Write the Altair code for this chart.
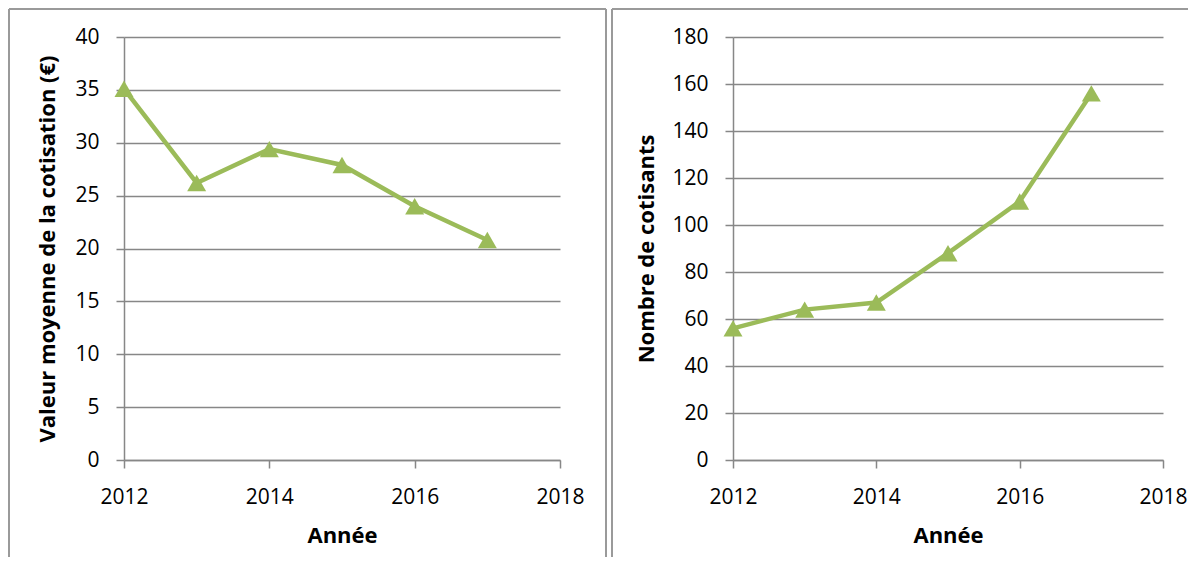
import altair as alt
import pandas as pd

years = [2012, 2013, 2014, 2015, 2016, 2017]
cotisation = [35.1, 26.2, 29.4, 27.9, 24.0, 20.8]
cotisants = [56, 64, 67, 88, 110, 156]

x_ticks = [2012, 2014, 2016, 2018]
left_ticks = [0, 5, 10, 15, 20, 25, 30, 35, 40]
right_ticks = [0, 20, 40, 60, 80, 100, 120, 140, 160, 180]

GREEN = "#9BBB59"
GRID = "#878787"
BORDER = "#9a9a9a"
FONT = "Open Sans"
LSIZE = 21
TSIZE = 22
H = 423


def panel(values, ytitle, ymax, yticks, width, title_x, bx_left, bx_right, right_edge):
    df = pd.DataFrame({"annee": years, "val": values})
    x = alt.X(
        "annee:Q",
        scale=alt.Scale(domain=[2012, 2018], nice=False, zero=False),
        axis=alt.Axis(values=x_ticks, format="d", title="Année", grid=False,
                      labelFlush=False, labelFont=FONT, labelFontSize=LSIZE,
                      labelColor="#000000",
                      labelBaseline="alphabetic", labelPadding=35, tickSize=8,
                      titleFont=FONT, titleFontSize=TSIZE, titleFontWeight="bold",
                      titleColor="#000000",
                      titleY=82, titleBaseline="alphabetic"),
    )
    y = alt.Y(
        "val:Q",
        scale=alt.Scale(domain=[0, ymax], nice=False),
        axis=alt.Axis(values=yticks, title=ytitle, grid=True, tickSize=8,
                      labelFont=FONT, labelFontSize=LSIZE, labelColor="#000000",
                      labelPadding=17,
                      titleFont=FONT, titleFontSize=TSIZE, titleFontWeight="bold",
                      titleColor="#000000",
                      titleX=title_x, titleY=H / 2,
                      titleAngle=270, titleBaseline="alphabetic"),
    )
    base = alt.Chart(df)
    line = base.mark_line(color=GREEN, strokeWidth=4.5).encode(x=x, y=y)
    pts = base.mark_point(shape="triangle-up", filled=True, size=360,
                          color=GREEN, opacity=1).encode(x=x, y=y)
    one = alt.Data(values=[{}])
    layers = [
        alt.Chart(one).mark_rule(color=BORDER, strokeWidth=2).encode(
            x=alt.value(bx_left), y=alt.value(-28), y2=alt.value(520)),
        alt.Chart(one).mark_rule(color=BORDER, strokeWidth=2).encode(
            x=alt.value(bx_left), x2=alt.value(bx_right), y=alt.value(-28)),
    ]
    if right_edge:
        layers.append(
            alt.Chart(one).mark_rule(color=BORDER, strokeWidth=2).encode(
                x=alt.value(bx_right), y=alt.value(-28), y2=alt.value(520)))
    return alt.layer(*layers, line, pts).properties(width=width, height=H)


left = panel(cotisation, "Valeur moyenne de la cotisation (€)", 40,
             left_ticks, 436, -70, -115, 482, True)
right = panel(cotisants, "Nombre de cotisants", 180,
              right_ticks, 430, -80, -121, 455, False)

chart = alt.hconcat(left, right, spacing=4).properties(padding=0).configure_view(
    stroke=None
).configure_axis(
    domainColor=GRID, domainWidth=1.5, tickColor=GRID, tickWidth=1.5,
    gridColor=GRID, gridWidth=1.5,
)

chart.save("out.html", embed_options={"renderer": "svg", "actions": False})
